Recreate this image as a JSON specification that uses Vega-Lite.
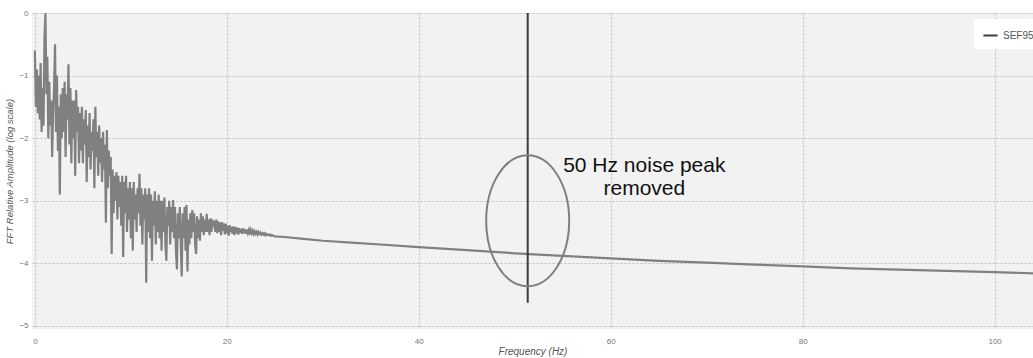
{
"$schema": "https://vega.github.io/schema/vega-lite/v6.json",
"autosize": {"type": "none"},
"padding": {"left": 32, "top": 13, "right": 0, "bottom": 29},
"width": 1001,
"height": 316,
"background": "white",
"config": {
  "view": {"fill": "#f2f2f2", "stroke": null},
  "font": "Liberation Sans",
  "axis": {"gridColor": "#bdbdbd", "gridDash": [2, 2], "gridWidth": 1, "domain": false, "ticks": false, "labelColor": "#777777", "labelFontSize": 8, "titleColor": "#555555", "titleFontStyle": "italic", "titleFontWeight": "normal", "titleFontSize": 10}
},
"datasets": {
  "spec": [
    {"f":0.0,"a":-0.6},{"f":0.1,"a":-1.5},{"f":0.2,"a":-0.9},{"f":0.3,"a":-1.6},{"f":0.4,"a":-1.0},{"f":0.5,"a":-1.7},{"f":0.6,"a":-0.8},{"f":0.7,"a":-1.9},{"f":0.8,"a":-1.2},{"f":0.9,"a":-1.8},
    {"f":1.0,"a":-0.4},{"f":1.1,"a":0.0},{"f":1.2,"a":-1.3},{"f":1.3,"a":-0.7},{"f":1.4,"a":-2.0},{"f":1.5,"a":-1.1},{"f":1.6,"a":-1.8},{"f":1.7,"a":-1.4},{"f":1.8,"a":-2.3},{"f":1.9,"a":-1.6},
    {"f":2.0,"a":-1.2},{"f":2.1,"a":-0.5},{"f":2.2,"a":-1.9},{"f":2.3,"a":-1.0},{"f":2.4,"a":-2.2},{"f":2.5,"a":-1.5},{"f":2.6,"a":-2.9},{"f":2.7,"a":-1.3},{"f":2.8,"a":-2.0},{"f":2.9,"a":-1.2},
    {"f":3.0,"a":-1.9},{"f":3.1,"a":-1.1},{"f":3.2,"a":-2.3},{"f":3.3,"a":-1.3},{"f":3.4,"a":-1.7},{"f":3.5,"a":-0.82},{"f":3.6,"a":-2.1},{"f":3.7,"a":-1.2},{"f":3.8,"a":-2.4},{"f":3.9,"a":-1.4},
    {"f":4.0,"a":-2.0},{"f":4.1,"a":-1.4},{"f":4.2,"a":-2.6},{"f":4.3,"a":-1.23},{"f":4.4,"a":-1.9},{"f":4.5,"a":-1.5},{"f":4.6,"a":-2.4},{"f":4.7,"a":-1.6},{"f":4.8,"a":-2.2},{"f":4.9,"a":-1.5},
    {"f":5.0,"a":-2.4},{"f":5.1,"a":-1.7},{"f":5.2,"a":-2.1},{"f":5.3,"a":-1.55},{"f":5.4,"a":-2.7},{"f":5.5,"a":-1.8},{"f":5.6,"a":-2.3},{"f":5.7,"a":-1.6},{"f":5.8,"a":-2.5},{"f":5.9,"a":-1.9},
    {"f":6.0,"a":-2.2},{"f":6.1,"a":-1.7},{"f":6.2,"a":-2.8},{"f":6.3,"a":-1.5},{"f":6.4,"a":-2.3},{"f":6.5,"a":-1.9},{"f":6.6,"a":-2.6},{"f":6.7,"a":-1.8},{"f":6.8,"a":-2.4},{"f":6.9,"a":-2.0},
    {"f":7.0,"a":-2.7},{"f":7.1,"a":-1.9},{"f":7.2,"a":-2.5},{"f":7.3,"a":-2.1},{"f":7.4,"a":-3.35},{"f":7.5,"a":-1.87},{"f":7.6,"a":-2.8},{"f":7.7,"a":-2.2},{"f":7.8,"a":-2.6},{"f":7.9,"a":-2.3},
    {"f":8.0,"a":-3.85},{"f":8.1,"a":-2.5},{"f":8.2,"a":-3.2},{"f":8.3,"a":-2.6},{"f":8.4,"a":-3.0},{"f":8.5,"a":-2.54},{"f":8.6,"a":-3.3},{"f":8.7,"a":-2.6},{"f":8.8,"a":-3.1},{"f":8.9,"a":-2.7},
    {"f":9.0,"a":-3.4},{"f":9.1,"a":-2.6},{"f":9.2,"a":-3.9},{"f":9.3,"a":-2.7},{"f":9.4,"a":-3.2},{"f":9.5,"a":-2.6},{"f":9.6,"a":-3.5},{"f":9.7,"a":-2.8},{"f":9.8,"a":-3.3},{"f":9.9,"a":-2.7},
    {"f":10.0,"a":-3.6},{"f":10.1,"a":-2.8},{"f":10.2,"a":-3.8},{"f":10.3,"a":-2.7},{"f":10.4,"a":-3.3},{"f":10.5,"a":-2.9},{"f":10.6,"a":-3.5},{"f":10.7,"a":-2.8},{"f":10.8,"a":-3.2},{"f":10.9,"a":-2.57},
    {"f":11.0,"a":-3.4},{"f":11.1,"a":-2.8},{"f":11.2,"a":-3.7},{"f":11.3,"a":-2.9},{"f":11.4,"a":-3.3},{"f":11.5,"a":-2.8},{"f":11.6,"a":-4.31},{"f":11.7,"a":-2.9},{"f":11.8,"a":-3.5},{"f":11.9,"a":-2.8},
    {"f":12.0,"a":-3.6},{"f":12.1,"a":-2.9},{"f":12.2,"a":-3.96},{"f":12.3,"a":-3.0},{"f":12.4,"a":-3.4},{"f":12.5,"a":-2.85},{"f":12.6,"a":-3.7},{"f":12.7,"a":-3.0},{"f":12.8,"a":-3.5},{"f":12.9,"a":-2.9},
    {"f":13.0,"a":-3.6},{"f":13.1,"a":-3.0},{"f":13.2,"a":-3.8},{"f":13.3,"a":-3.0},{"f":13.4,"a":-3.5},{"f":13.5,"a":-2.95},{"f":13.6,"a":-3.7},{"f":13.7,"a":-3.96},{"f":13.8,"a":-3.1},{"f":13.9,"a":-3.4},
    {"f":14.0,"a":-3.0},{"f":14.1,"a":-3.7},{"f":14.2,"a":-3.1},{"f":14.3,"a":-3.5},{"f":14.4,"a":-2.99},{"f":14.5,"a":-3.6},{"f":14.6,"a":-3.1},{"f":14.7,"a":-3.8},{"f":14.8,"a":-4.1},{"f":14.9,"a":-3.2},
    {"f":15.0,"a":-3.6},{"f":15.1,"a":-3.1},{"f":15.2,"a":-3.7},{"f":15.3,"a":-4.21},{"f":15.4,"a":-3.2},{"f":15.5,"a":-3.6},{"f":15.6,"a":-3.1},{"f":15.7,"a":-3.8},{"f":15.8,"a":-3.07},{"f":15.9,"a":-4.13},
    {"f":16.0,"a":-3.3},{"f":16.1,"a":-3.7},{"f":16.2,"a":-3.2},{"f":16.3,"a":-3.6},{"f":16.4,"a":-3.15},{"f":16.5,"a":-3.5},{"f":16.6,"a":-3.2},{"f":16.7,"a":-3.7},{"f":16.8,"a":-3.85},{"f":16.9,"a":-3.25},
    {"f":17.0,"a":-3.6},{"f":17.1,"a":-3.3},{"f":17.2,"a":-3.64},{"f":17.3,"a":-3.2},{"f":17.4,"a":-3.5},{"f":17.5,"a":-3.25},{"f":17.6,"a":-3.55},{"f":17.7,"a":-3.3},{"f":17.8,"a":-3.5},{"f":17.9,"a":-3.21},
    {"f":18.0,"a":-3.5},{"f":18.1,"a":-3.3},{"f":18.2,"a":-3.55},{"f":18.3,"a":-3.28},{"f":18.4,"a":-3.5},{"f":18.5,"a":-3.3},{"f":18.6,"a":-3.42},{"f":18.7,"a":-3.32},{"f":18.8,"a":-3.5},{"f":18.9,"a":-3.3},
    {"f":19.0,"a":-3.52},{"f":19.1,"a":-3.33},{"f":19.2,"a":-3.5},{"f":19.3,"a":-3.35},{"f":19.4,"a":-3.55},{"f":19.5,"a":-3.34},{"f":19.6,"a":-3.48},{"f":19.7,"a":-3.36},{"f":19.8,"a":-3.54},{"f":19.9,"a":-3.37},
    {"f":20.0,"a":-3.52},{"f":20.1,"a":-3.4},{"f":20.2,"a":-3.56},{"f":20.3,"a":-3.39},{"f":20.4,"a":-3.5},{"f":20.5,"a":-3.42},{"f":20.6,"a":-3.53},{"f":20.7,"a":-3.41},{"f":20.8,"a":-3.55},{"f":20.9,"a":-3.42},
    {"f":21.0,"a":-3.52},{"f":21.1,"a":-3.43},{"f":21.2,"a":-3.54},{"f":21.3,"a":-3.44},{"f":21.4,"a":-3.51},{"f":21.5,"a":-3.45},{"f":21.6,"a":-3.53},{"f":21.7,"a":-3.44},{"f":21.8,"a":-3.52},{"f":21.9,"a":-3.46},
    {"f":22.0,"a":-3.53},{"f":22.1,"a":-3.46},{"f":22.2,"a":-3.52},{"f":22.3,"a":-3.47},{"f":22.4,"a":-3.54},{"f":22.5,"a":-3.47},{"f":22.6,"a":-3.52},{"f":22.7,"a":-3.48},{"f":22.8,"a":-3.53},{"f":22.9,"a":-3.49},
    {"f":23.0,"a":-3.53},{"f":23.1,"a":-3.5},{"f":23.2,"a":-3.54},{"f":23.3,"a":-3.5},{"f":23.4,"a":-3.53},{"f":23.5,"a":-3.51},{"f":23.6,"a":-3.54},{"f":23.7,"a":-3.52},{"f":23.8,"a":-3.54},{"f":23.9,"a":-3.52},
    {"f":24.0,"a":-3.55},{"f":24.1,"a":-3.53},{"f":24.2,"a":-3.55},{"f":24.3,"a":-3.54},{"f":24.4,"a":-3.55},{"f":24.5,"a":-3.54},{"f":24.6,"a":-3.56},{"f":24.7,"a":-3.55},{"f":24.8,"a":-3.56},{"f":24.9,"a":-3.56},
    {"f":25,"a":-3.57},{"f":26,"a":-3.58},{"f":28,"a":-3.61},{"f":30,"a":-3.64},{"f":33,"a":-3.67},{"f":36,"a":-3.7},{"f":40,"a":-3.74},{"f":45,"a":-3.79},{"f":50,"a":-3.84},{"f":55,"a":-3.88},{"f":60,"a":-3.92},{"f":65,"a":-3.96},{"f":70,"a":-3.99},{"f":75,"a":-4.02},{"f":80,"a":-4.05},{"f":85,"a":-4.08},{"f":90,"a":-4.1},{"f":95,"a":-4.12},{"f":100,"a":-4.14},{"f":104,"a":-4.16}
  ],
  "sef": [{"f": 51.35, "a": 0, "a2": -4.63, "series": "SEF95"}],
  "ring": [{"f": 51.35, "a": -3.32}],
  "note": [{"f": 63.5, "a": -2.535, "label": ["50 Hz noise peak", "removed"]}]
},
"layer": [
  {
    "data": {"name": "spec"},
    "mark": {"type": "line", "color": "#808080", "strokeWidth": 2.2, "clip": true},
    "encoding": {
      "x": {"field": "f", "type": "quantitative", "scale": {"domain": [-0.3, 104], "nice": false, "zero": false},
            "axis": {"values": [0, 20, 40, 60, 80, 100], "format": "d", "title": "Frequency (Hz)", "labelPadding": 8, "titlePadding": 1}},
      "y": {"field": "a", "type": "quantitative", "scale": {"domain": [-5.05, 0], "nice": false, "zero": false},
            "axis": {"values": [0, -1, -2, -3, -4, -5], "format": "d", "title": "FFT Relative Amplitude (log scale)", "labelPadding": 4, "titlePadding": 4, "titleFontSize": 9.5}}
    }
  },
  {
    "data": {"name": "sef"},
    "mark": {"type": "rule", "strokeWidth": 2},
    "encoding": {
      "x": {"field": "f", "type": "quantitative"},
      "y": {"field": "a", "type": "quantitative"},
      "y2": {"field": "a2"},
      "color": {"field": "series", "type": "nominal", "scale": {"range": ["#3c3c3c"]},
                "legend": {"title": null, "orient": "none", "legendX": 942, "legendY": 6, "fillColor": "white", "padding": 8, "symbolType": "stroke", "symbolStrokeWidth": 2, "symbolSize": 200, "labelFontSize": 10, "labelColor": "#555555", "labelOffset": 4}}
    }
  },
  {
    "data": {"name": "ring"},
    "mark": {"type": "point", "shape": "M0,-1A0.634,1,0,1,1,0,1A0.634,1,0,1,1,0,-1Z", "size": 17161, "filled": false, "stroke": "#808080", "strokeWidth": 2, "opacity": 1},
    "encoding": {
      "x": {"field": "f", "type": "quantitative"},
      "y": {"field": "a", "type": "quantitative"}
    }
  },
  {
    "data": {"name": "note"},
    "mark": {"type": "text", "fontSize": 21, "align": "center", "baseline": "alphabetic", "lineHeight": 23.5, "color": "#111111", "font": "Liberation Sans"},
    "encoding": {
      "x": {"field": "f", "type": "quantitative"},
      "y": {"field": "a", "type": "quantitative"},
      "text": {"field": "label"}
    }
  }
]
}
